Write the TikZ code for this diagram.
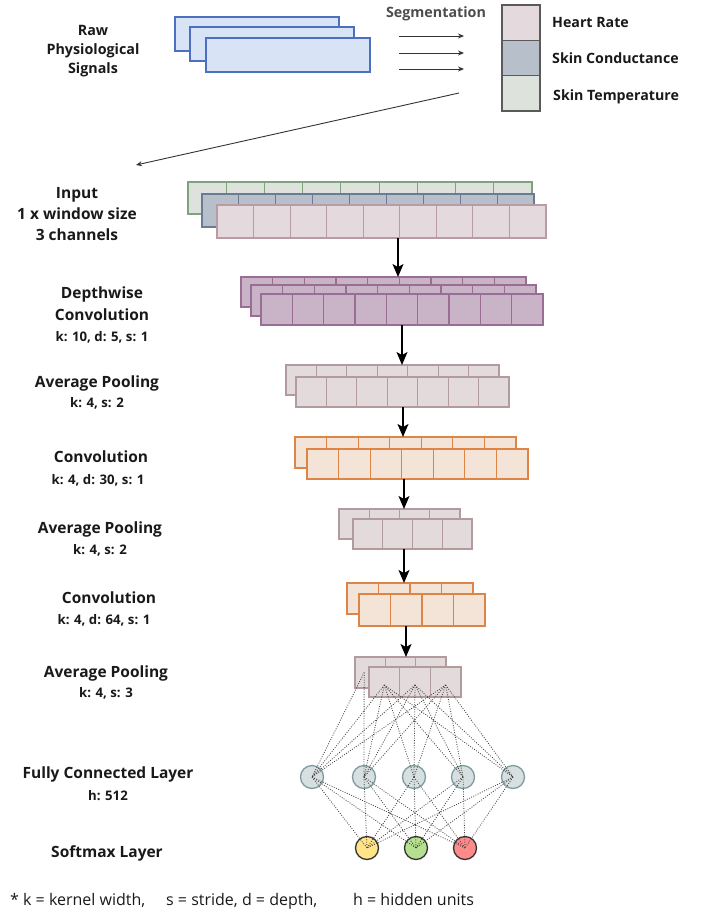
\documentclass[tikz,border=0pt]{standalone}
\usepackage{fontspec}
\setmainfont{Open Sans}
\usetikzlibrary{arrows.meta,calc}
\definecolor{hrfill}{HTML}{E4D9DC}
\definecolor{hrdraw}{HTML}{B99BA3}
\definecolor{scfill}{HTML}{B7BFCA}
\definecolor{scdraw}{HTML}{6C7B95}
\definecolor{stfill}{HTML}{DDE3DC}
\definecolor{stdraw}{HTML}{7FA37F}
\definecolor{dwfill}{HTML}{C8B4C6}
\definecolor{dwdraw}{HTML}{9A6D94}
\definecolor{apfill}{HTML}{E3DADC}
\definecolor{apdraw}{HTML}{B39A9E}
\definecolor{cvfill}{HTML}{F4E3D7}
\definecolor{cvdraw}{HTML}{DC8547}
\definecolor{fcfill}{HTML}{D7DFE0}
\definecolor{fcdraw}{HTML}{7C9CA0}
\definecolor{sigfill}{HTML}{D8E3F6}
\definecolor{sigdraw}{HTML}{4B70C0}
\definecolor{smyel}{HTML}{FFE48A}
\definecolor{smgrn}{HTML}{B6E08F}
\definecolor{smred}{HTML}{FF8A8A}
\definecolor{legdraw}{HTML}{5A5A5A}
\newcommand{\cnnlayer}[7]{%
  \pgfmathsetmacro{\lyrcw}{(#4-#2)/#6}%
  \pgfmathsetmacro{\lyrh}{#5-#3}%
  \foreach \i in {1,...,#6}{%
    \node[#7, minimum width=\lyrcw pt, minimum height=\lyrh pt] (#1-\i) at ({#2+(\i-1)*\lyrcw},#3) {};
  }%
}
\begin{document}
\begin{tikzpicture}[x=1pt,y=-1pt,
  cellbase/.style={draw, line width=1.15pt, inner sep=0pt, outer sep=0pt, anchor=north west},
  hrcell/.style={cellbase, fill=hrfill, draw=hrdraw},
  sccell/.style={cellbase, fill=scfill, draw=scdraw},
  stcell/.style={cellbase, fill=stfill, draw=stdraw},
  dwcell/.style={cellbase, fill=dwfill, draw=dwdraw},
  apcell/.style={cellbase, fill=apfill, draw=apdraw},
  cvcell/.style={cellbase, fill=cvfill, draw=cvdraw},
  legcell/.style={cellbase, draw=legdraw, line width=1.4pt, minimum width=38pt, minimum height=35.3pt},
  sigbox/.style={cellbase, fill=sigfill, draw=sigdraw, line width=1.1pt, minimum width=164pt, minimum height=34pt},
  lbl/.style={font=\bfseries\fontsize{15.5}{18}\selectfont, anchor=base, text=black!90, inner sep=0pt},
  toplbl/.style={font=\bfseries\fontsize{14.3}{17}\selectfont, anchor=base, text=black!90, inner sep=0pt},
  sublbl/.style={font=\bfseries\fontsize{13.2}{15}\selectfont, anchor=base, text=black!90, inner sep=0pt},
  leglbl/.style={font=\bfseries\fontsize{14.2}{16}\selectfont, anchor=base west, text=black!90, inner sep=0pt},
  footlbl/.style={font=\fontsize{16}{18}\selectfont, anchor=base west, text=black!90, inner sep=0pt},
  flowarr/.style={draw=black, line width=1.3pt, -{Stealth[length=13pt,width=11pt,inset=3pt]}},
  thinarr/.style={draw=black!80, line width=0.9pt, -{Stealth[length=6pt,width=5pt]}},
  conn/.style={draw=black!75, line width=0.8pt, dash pattern=on 0.9pt off 1.5pt},
  fcnode/.style={circle, draw=fcdraw, fill=fcfill, line width=1.3pt, minimum size=23pt, inner sep=0pt},
  smnode/.style={circle, draw=black!80, line width=1.3pt, minimum size=23pt, inner sep=0pt}
]
\useasboundingbox (0,0) rectangle (710,911);

% ---------- top: raw signals ----------
\node[toplbl] (raw1) at (93,35) {Raw};
\node[toplbl] (raw2) at (93,54) {Physiological};
\node[toplbl] (raw3) at (93,73) {Signals};
\node[sigbox] (sig1) at (175,17) {};
\node[sigbox] (sig2) at (190,27) {};
\node[sigbox] (sig3) at (206,38) {};

\node[toplbl, text=black!70] (segm) at (436,17) {Segmentation};
\coordinate (sgA1) at (399,36); \coordinate (sgB1) at (464,36);
\coordinate (sgA2) at (399,53); \coordinate (sgB2) at (464,53);
\coordinate (sgA3) at (399,69); \coordinate (sgB3) at (464,69);
\draw[thinarr] (sgA1) -- (sgB1);
\draw[thinarr] (sgA2) -- (sgB2);
\draw[thinarr] (sgA3) -- (sgB3);

\node[legcell, fill=hrfill] (legHR) at (502,5) {};
\node[legcell, fill=scfill] (legSC) at (502,40.3) {};
\node[legcell, fill=stfill] (legST) at (502,75.6) {};
\node[leglbl] (txHR) at (552,27) {Heart Rate};
\node[leglbl] (txSC) at (552,63) {Skin Conductance};
\node[leglbl] (txST) at (553,100) {Skin Temperature};

\coordinate (lgA) at (459,93);
\coordinate (lgB) at (136,165);
\draw[thinarr] (lgA) -- (lgB);

% ---------- layers ----------
\cnnlayer{inG}{188}{182}{532}{214}{9}{stcell}
\cnnlayer{inB}{202}{194}{534}{227}{9}{sccell}
\cnnlayer{inP}{217}{205}{546}{238}{9}{hrcell}

\cnnlayer{dwA}{241}{277}{526}{307}{9}{dwcell}
\cnnlayer{dwB}{251}{285}{536}{316}{9}{dwcell}
\cnnlayer{dwC}{261}{294}{543}{325}{9}{dwcell}

\cnnlayer{apA}{286}{365}{499}{395}{7}{apcell}
\cnnlayer{apB}{296}{377}{509}{407}{7}{apcell}

\cnnlayer{cvA}{295}{437}{516}{468}{7}{cvcell}
\cnnlayer{cvB}{307}{449}{528}{479}{7}{cvcell}

\cnnlayer{aqA}{339}{509}{460}{539}{4}{apcell}
\cnnlayer{aqB}{353}{519}{472}{549}{4}{apcell}

\cnnlayer{cwA}{347}{583}{473}{614}{4}{cvcell}
\cnnlayer{cwB}{359}{594}{485}{626}{4}{cvcell}

\cnnlayer{arA}{355}{657}{446}{688}{3}{apcell}
\cnnlayer{arB}{369}{667}{461}{697}{3}{apcell}

% ---------- flow arrows ----------
\coordinate (fx1) at (398,0);
\coordinate (fx2) at (402,0);
\coordinate (fx3) at (403,0);
\coordinate (fx4) at (404,0);
\coordinate (fx5) at (404,0);
\coordinate (fx6) at (406,0);
\draw[flowarr] (inP-1.south -| fx1) -- (dwA-1.north -| fx1);
\draw[flowarr] (dwC-1.south -| fx2) -- (apA-1.north -| fx2);
\draw[flowarr] (apB-1.south -| fx3) -- (cvA-1.north -| fx3);
\draw[flowarr] (cvB-1.south -| fx4) -- (aqA-1.north -| fx4);
\draw[flowarr] (aqB-1.south -| fx5) -- (cwA-1.north -| fx5);
\draw[flowarr] (cwB-1.south -| fx6) -- (arA-1.north -| fx6);

% ---------- dense layers ----------
\node[fcnode] (fc1) at (312,777) {};
\node[fcnode] (fc2) at (364,777) {};
\node[fcnode] (fc3) at (414,777) {};
\node[fcnode] (fc4) at (463,777) {};
\node[fcnode] (fc5) at (513,777) {};
\node[smnode, fill=smyel] (sm1) at (367,848) {};
\node[smnode, fill=smgrn] (sm2) at (416,848) {};
\node[smnode, fill=smred] (sm3) at (465,848) {};

\foreach \s in {arB-1,arB-2,arB-3}
  \foreach \t in {fc1,fc2,fc3,fc4,fc5}
    \draw[conn] ([yshift=-3pt]\s.center) -- (\t.center);
\foreach \t in {fc1,fc2}
  \draw[conn] ([xshift=-6pt]arA-1.center) -- (\t.center);
\foreach \s in {fc1,fc2,fc3,fc4,fc5}
  \foreach \t in {sm1,sm2,sm3}
    \draw[conn] (\s.center) -- (\t.center);

% ---------- left labels ----------
\node[lbl] (l1a) at (77,198.5) {Input};
\node[lbl] (l1b) at (77,219.5) {1 x window size};
\node[lbl] (l1c) at (77,240.5) {3 channels};
\node[lbl] (l2a) at (102,298.5) {Depthwise};
\node[lbl] (l2b) at (102,320.5) {Convolution};
\node[sublbl] (l2c) at (102,341.6) {k: 10, d: 5, s: 1};
\node[lbl] (l3a) at (97,387.5) {Average Pooling};
\node[sublbl] (l3b) at (97,407.6) {k: 4, s: 2};
\node[lbl] (l4a) at (101,462.5) {Convolution};
\node[sublbl] (l4b) at (98,484.6) {k: 4, d: 30, s: 1};
\node[lbl] (l5a) at (100,533.5) {Average Pooling};
\node[sublbl] (l5b) at (100,554.6) {k: 4, s: 2};
\node[lbl] (l6a) at (109,603.5) {Convolution};
\node[sublbl] (l6b) at (104,624.6) {k: 4, d: 64, s: 1};
\node[lbl] (l7a) at (106,677.5) {Average Pooling};
\node[sublbl] (l7b) at (106,697.6) {k: 4, s: 3};
\node[lbl] (l8a) at (108,778.5) {Fully Connected Layer};
\node[sublbl] (l8b) at (108,800.6) {h: 512};
\node[lbl] (l9a) at (107,857.5) {Softmax Layer};

% ---------- footer ----------
\node[footlbl] (ft1) at (10,905) {* k = kernel width,};
\node[footlbl] (ft2) at (166,905) {s = stride, d = depth,};
\node[footlbl] (ft3) at (353,905) {h = hidden units};
\end{tikzpicture}
\end{document}
